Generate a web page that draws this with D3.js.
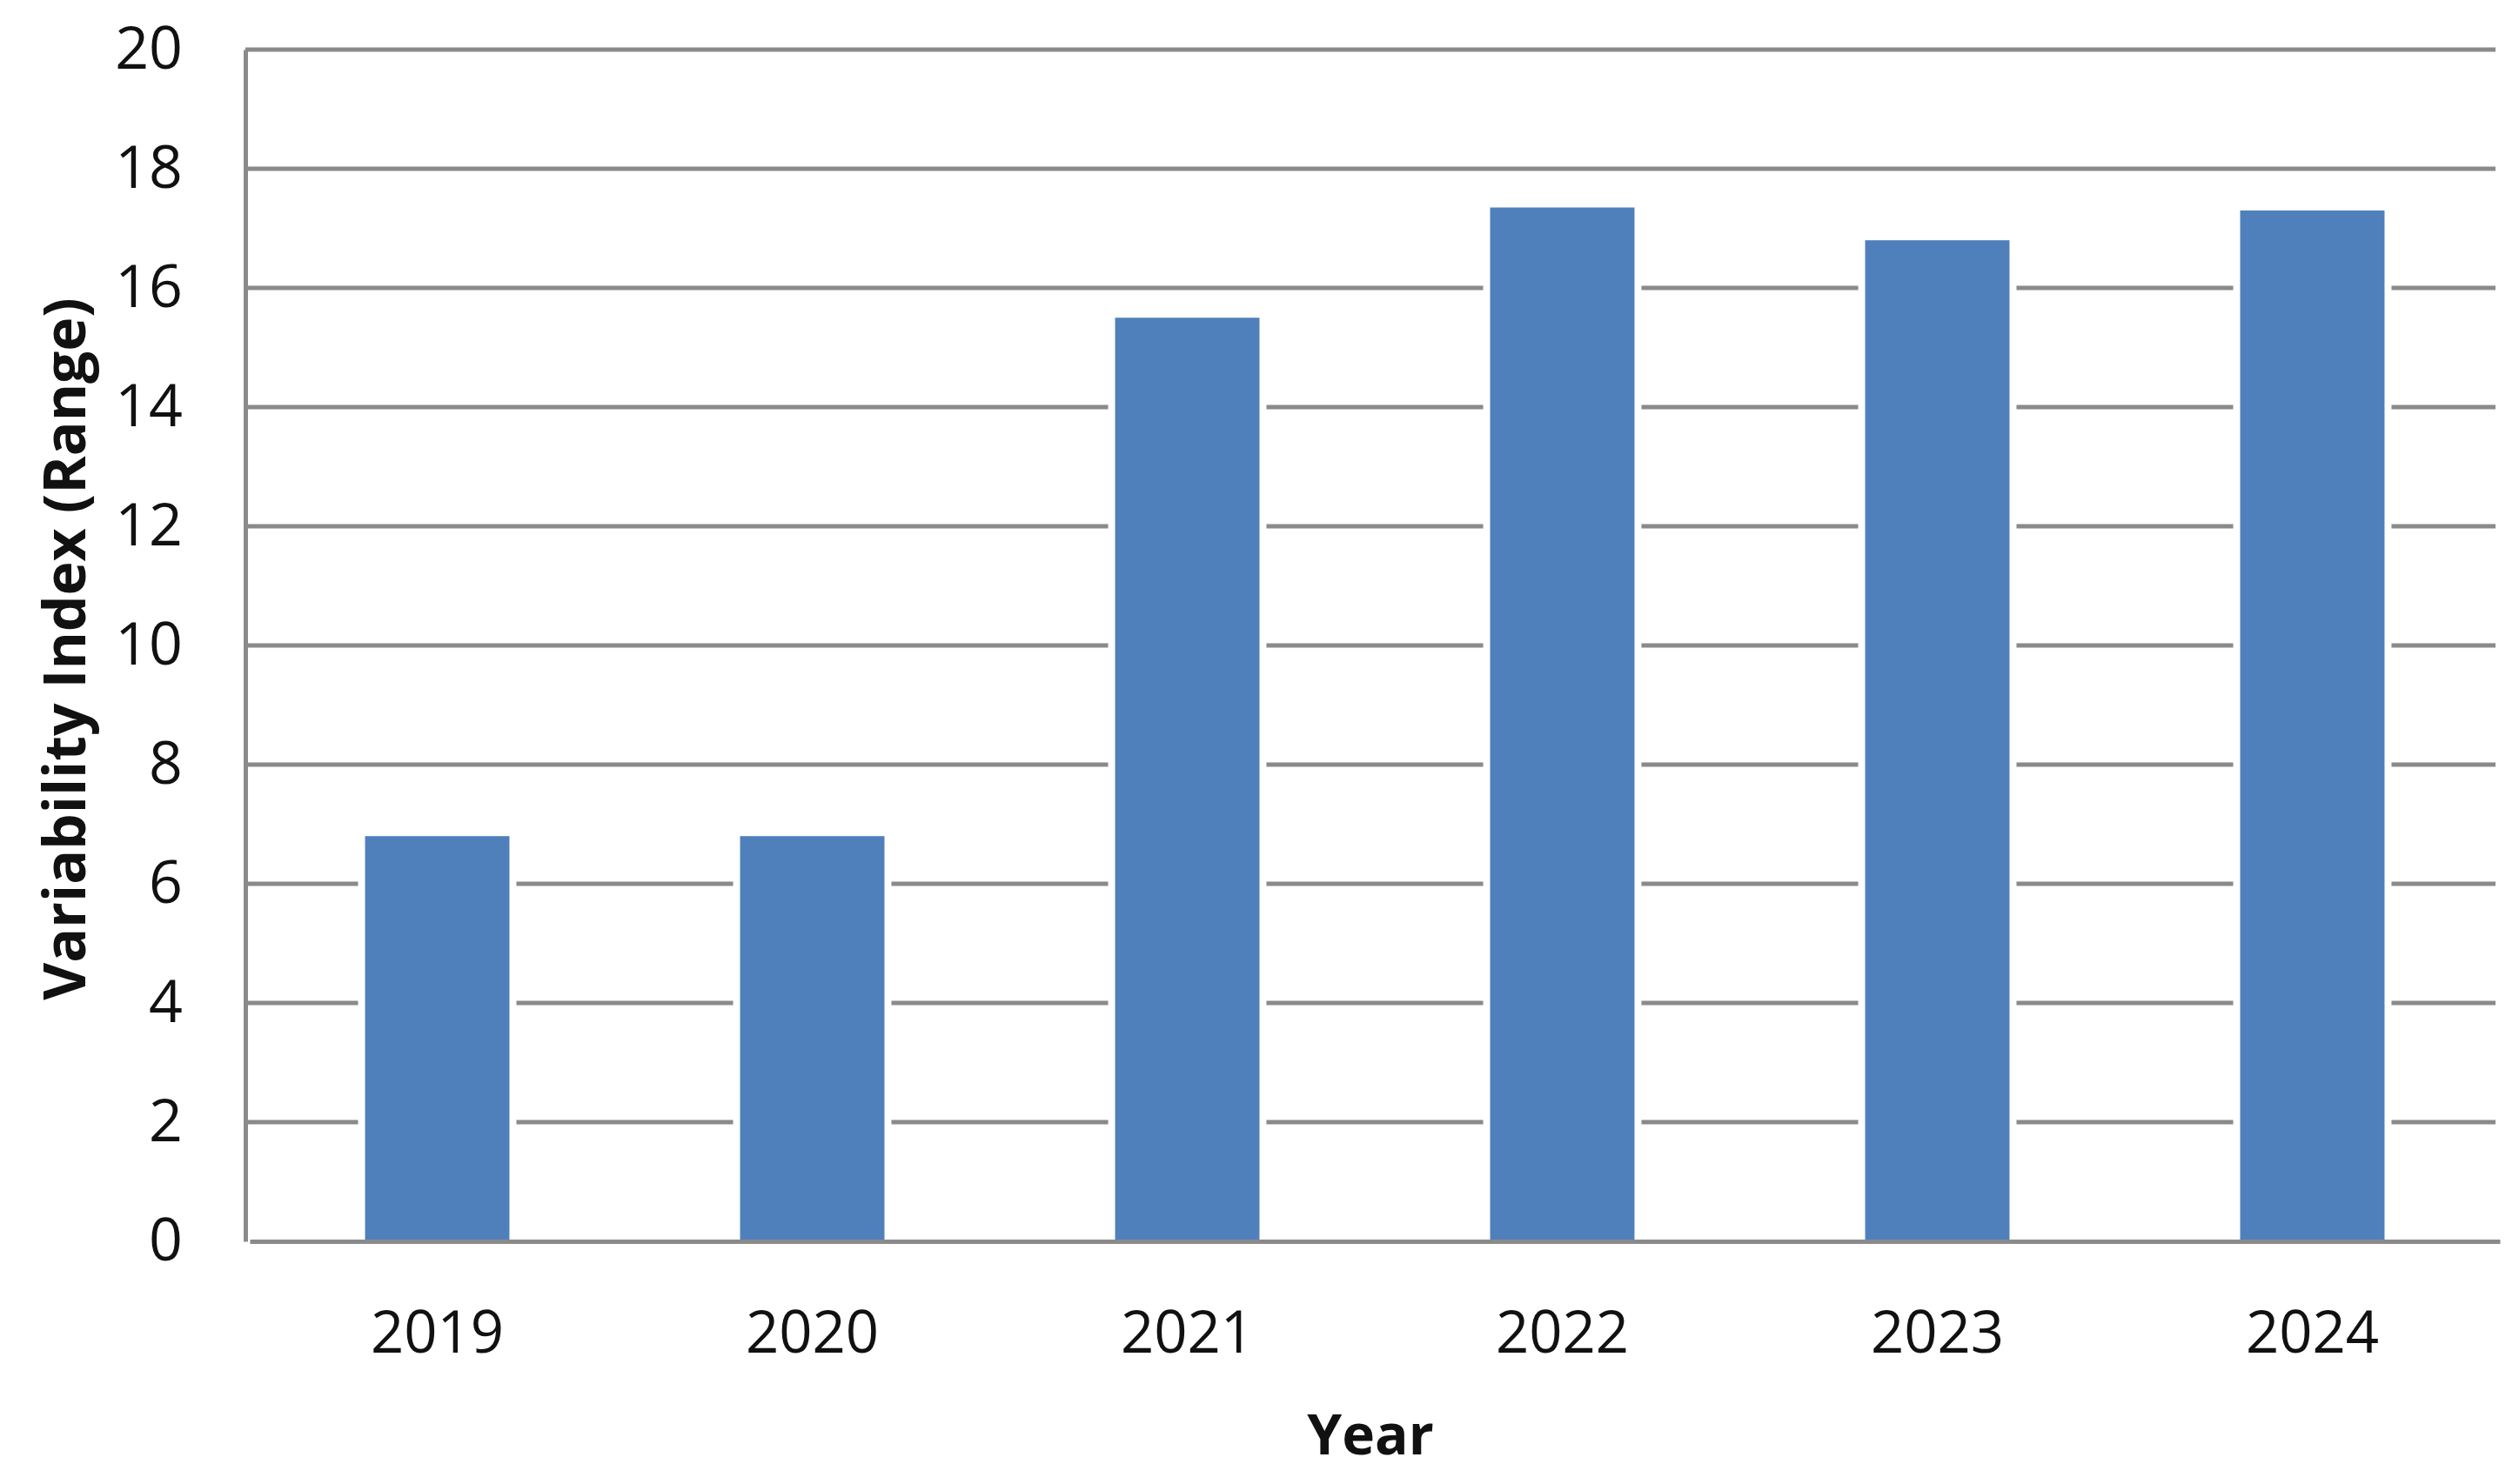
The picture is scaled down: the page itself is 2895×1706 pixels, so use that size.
<!DOCTYPE html>
<html>
<head>
<meta charset="utf-8">
<script src="https://cdn.jsdelivr.net/npm/d3@7"></script>
<style>
  body { margin: 0; background: #fff; }
  svg { display: block; font-family: "Open Sans", "Noto Sans", sans-serif; }
</style>
</head>
<body>
<svg width="2895" height="1706"></svg>
<script>
// chart data
var years = ["2019", "2020", "2021", "2022", "2023", "2024"];
var variability = [6.8, 6.8, 15.5, 17.35, 16.8, 17.3];
var yTicks = [0, 2, 4, 6, 8, 10, 12, 14, 16, 18, 20];

var svg = d3.select("svg");
var margin = {top: 57, right: 27, bottom: 279, left: 282};
var width = +svg.attr("width") - margin.left - margin.right;
var height = +svg.attr("height") - margin.top - margin.bottom;

var x = d3.scaleBand().domain(years).range([5, width + 5])
  .paddingInner(0.615).paddingOuter(0.3075);
var y = d3.scaleLinear().domain([0, 20]).range([height, 0]);

var g = svg.append("g")
  .attr("transform", "translate(" + margin.left + "," + margin.top + ")");

// horizontal gridlines
g.selectAll(".grid")
  .data(yTicks.filter(function(d) { return d > 0; }))
  .enter().append("line")
    .attr("class", "grid")
    .attr("x1", 0).attr("x2", width)
    .attr("y1", function(d) { return y(d); })
    .attr("y2", function(d) { return y(d); })
    .attr("stroke", "#8a8a8a")
    .attr("stroke-width", 5);

// white halo behind bars, so gridlines stop short of them
g.selectAll(".halo")
  .data(variability)
  .enter().append("rect")
    .attr("class", "halo")
    .attr("x", function(d, i) { return x(years[i]) - 8; })
    .attr("y", function(d) { return y(d) - 4; })
    .attr("width", x.bandwidth() + 16)
    .attr("height", function(d) { return height - y(d) + 4; })
    .attr("fill", "#fff");

// bars
g.selectAll(".bar")
  .data(variability)
  .enter().append("rect")
    .attr("class", "bar")
    .attr("x", function(d, i) { return x(years[i]); })
    .attr("y", function(d) { return y(d); })
    .attr("width", x.bandwidth())
    .attr("height", function(d) { return height - y(d); })
    .attr("fill", "#4f80bb");

// y axis
var yAxis = g.append("g")
  .call(d3.axisLeft(y).tickValues(yTicks).tickSize(0).tickPadding(72));
yAxis.select(".domain").attr("stroke", "#8a8a8a").attr("stroke-width", 5);
yAxis.selectAll("text")
  .attr("font-size", 68)
  .attr("fill", "#111")
  .attr("font-family", "Open Sans");

// x axis
var xAxis = g.append("g")
  .attr("transform", "translate(0," + height + ")")
  .call(d3.axisBottom(x).tickSize(0).tickPadding(80));
xAxis.select(".domain").attr("stroke", "#8a8a8a").attr("stroke-width", 5);
xAxis.selectAll("text")
  .attr("font-size", 67)
  .attr("fill", "#111")
  .attr("font-family", "Open Sans");

// axis titles
svg.append("text")
  .attr("x", margin.left + width / 2)
  .attr("y", 1672)
  .attr("text-anchor", "middle")
  .attr("font-size", 64)
  .attr("font-weight", "bold")
  .attr("fill", "#111")
  .text("Year");

svg.append("text")
  .attr("transform", "translate(98,746) rotate(-90)")
  .attr("text-anchor", "middle")
  .attr("font-size", 66)
  .attr("font-weight", "bold")
  .attr("fill", "#111")
  .text("Variability Index (Range)");
</script>
</body>
</html>
